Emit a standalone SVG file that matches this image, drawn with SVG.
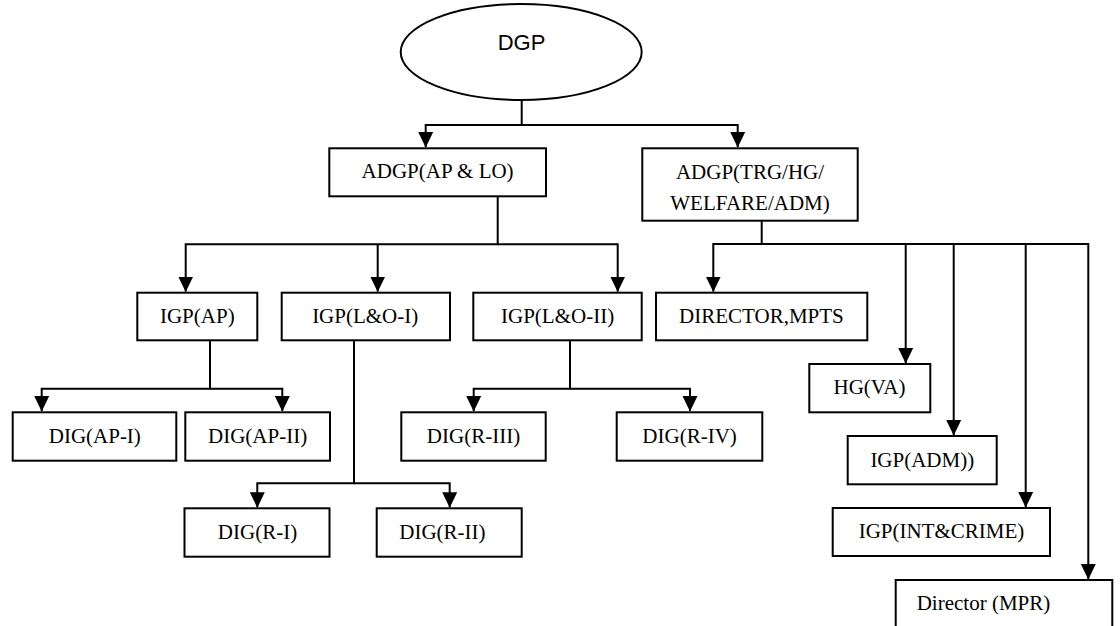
<svg xmlns="http://www.w3.org/2000/svg" width="1120" height="626" viewBox="0 0 1120 626">
<style>
.box{fill:#fff;stroke:#000;stroke-width:2}
.t{font-family:"Liberation Serif","Times New Roman",serif;font-size:21px;fill:#000;text-anchor:middle}
.s{font-family:"Liberation Sans",Arial,sans-serif;font-size:22px;fill:#000;text-anchor:middle}
.c{fill:none;stroke:#000;stroke-width:2}
</style>
<defs>
<marker id="ah" markerUnits="userSpaceOnUse" markerWidth="16" markerHeight="16" viewBox="0 -8 16 16" refX="15" refY="0" orient="auto">
<path d="M0,-7.5 L15.5,0 L0,7.5 z" fill="#000"/>
</marker>
</defs>
<rect width="1120" height="626" fill="#fff"/>
<g id="connectors">
<path class="c" d="M521.7,100 V125 H425.7 V147" marker-end="url(#ah)"/>
<path class="c" d="M521.7,125 H737.7 V147" marker-end="url(#ah)"/>
<path class="c" d="M497.7,196.3 V244.3 H185.7 V291.5" marker-end="url(#ah)"/>
<path class="c" d="M377.7,244.3 V291.5" marker-end="url(#ah)"/>
<path class="c" d="M497.7,244.3 H617.7 V291.5" marker-end="url(#ah)"/>
<path class="c" d="M210,340.3 V388.7 H41.7 V411" marker-end="url(#ah)"/>
<path class="c" d="M210,388.7 H282.3 V411" marker-end="url(#ah)"/>
<path class="c" d="M354,340.3 V483.3 H257.3 V507.3" marker-end="url(#ah)"/>
<path class="c" d="M354,483.3 H449.7 V507.3" marker-end="url(#ah)"/>
<path class="c" d="M570,340.3 V388.7 H473.7 V411" marker-end="url(#ah)"/>
<path class="c" d="M570,388.7 H690 V411" marker-end="url(#ah)"/>
<path class="c" d="M761.7,220.7 V244 H713.3 V291.5" marker-end="url(#ah)"/>
<path class="c" d="M761.7,244 H1088.3 V579" marker-end="url(#ah)"/>
<path class="c" d="M905.7,244 V363" marker-end="url(#ah)"/>
<path class="c" d="M953.7,244 V435" marker-end="url(#ah)"/>
<path class="c" d="M1025.7,244 V507" marker-end="url(#ah)"/>
</g>
<g id="dgp">
<ellipse class="box" cx="521.2" cy="52" rx="120.5" ry="48"/>
<text class="s" x="521.5" y="50">DGP</text>
</g>
<g id="adgp-ap-lo">
<rect class="box" x="329.3" y="148.3" width="216.7" height="48"/>
<text class="t" x="437.6" y="178.3">ADGP(AP &amp; LO)</text>
</g>
<g id="adgp-trg">
<rect class="box" x="642.3" y="148.3" width="215.4" height="72.4"/>
<text class="t" x="750" y="179.3">ADGP(TRG/HG/</text>
<text class="t" x="750" y="209.5">WELFARE/ADM)</text>
</g>
<g id="igp-ap">
<rect class="box" x="137.3" y="292.7" width="120" height="47.6"/>
<text class="t" x="197.3" y="323.3">IGP(AP)</text>
</g>
<g id="igp-lo-1">
<rect class="box" x="281.7" y="292.7" width="168.3" height="47.6"/>
<text class="t" x="365.2" y="323.3">IGP(L&amp;O-I)</text>
</g>
<g id="igp-lo-2">
<rect class="box" x="473.3" y="292.7" width="168.4" height="47.6"/>
<text class="t" x="557.6" y="323.3">IGP(L&amp;O-II)</text>
</g>
<g id="director-mpts">
<rect class="box" x="656" y="292.7" width="211.3" height="47.6"/>
<text class="t" x="761.4" y="323.3">DIRECTOR,MPTS</text>
</g>
<g id="dig-ap-1">
<rect class="box" x="12.7" y="412.3" width="163.6" height="48.4"/>
<text class="t" x="94.8" y="443">DIG(AP-I)</text>
</g>
<g id="dig-ap-2">
<rect class="box" x="185.3" y="412.3" width="144.7" height="48.4"/>
<text class="t" x="257.6" y="443">DIG(AP-II)</text>
</g>
<g id="dig-r-3">
<rect class="box" x="401.3" y="412.3" width="144.4" height="48.4"/>
<text class="t" x="473.5" y="443">DIG(R-III)</text>
</g>
<g id="dig-r-4">
<rect class="box" x="616.7" y="412.3" width="145.6" height="48.4"/>
<text class="t" x="689.6" y="443">DIG(R-IV)</text>
</g>
<g id="dig-r-1">
<rect class="box" x="184.5" y="508.3" width="145" height="48.4"/>
<text class="t" x="257.5" y="539">DIG(R-I)</text>
</g>
<g id="dig-r-2">
<rect class="box" x="376.7" y="508.3" width="145" height="48.4"/>
<text class="t" x="442.4" y="539">DIG(R-II)</text>
</g>
<g id="hg-va">
<rect class="box" x="809.3" y="364" width="121" height="48.3"/>
<text class="t" x="869.5" y="394.3">HG(VA)</text>
</g>
<g id="igp-adm">
<rect class="box" x="847.7" y="436" width="149" height="48.3"/>
<text class="t" x="922.3" y="467">IGP(ADM))</text>
</g>
<g id="igp-int-crime">
<rect class="box" x="832.7" y="508" width="217.3" height="48"/>
<text class="t" x="941.5" y="538.3">IGP(INT&amp;CRIME)</text>
</g>
<g id="director-mpr">
<rect class="box" x="895.7" y="580" width="216.6" height="60"/>
<text class="t" x="916.7" y="610" style="text-anchor:start">Director (MPR)</text>
</g>
</svg>
